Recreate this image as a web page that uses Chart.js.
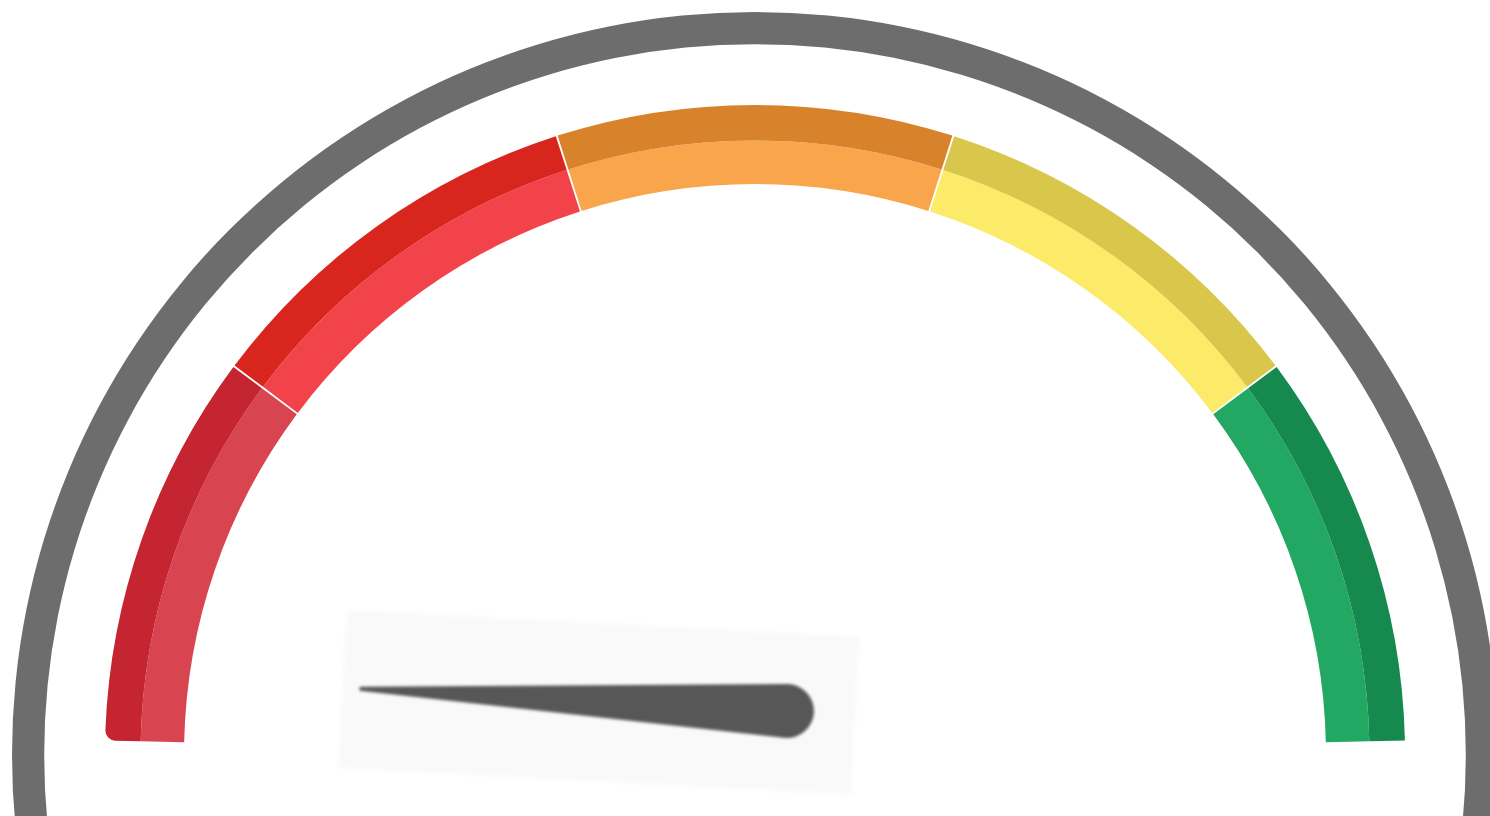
<!DOCTYPE html>
<html>
<head>
<meta charset="utf-8">
<title>Gauge</title>
<script src="https://cdn.jsdelivr.net/npm/chart.js@4/dist/chart.umd.min.js"></script>
<style>
  html, body { margin: 0; padding: 0; background: #fff; overflow: hidden; width: 1490px; height: 816px; }
  #gauge { position: absolute; left: 12px; top: 12px; }
</style>
</head>
<body>
<canvas id="gauge" width="1486" height="1486"></canvas>
<script>
// gauge bands (0 - 100, five equal ranges)
const bandLabels = ['0-20', '20-40', '40-60', '60-80', '80-100'];
const bandValues = [20, 20, 20, 20, 20];
const bandOuterColors = ['#c52431', '#d8261f', '#d9822c', '#d8c74a', '#168a4e'];
const bandInnerColors = ['#d8444f', '#f2434a', '#f9a54b', '#fbeb68', '#22a862'];

// needle position on the 0 - 100 scale
const needleValue = 1;

// gauge arc: starts a little above the horizontal on the left
const gaugeRotation = -88.8;
const gaugeSweep = 177.6;

// needle: pivots slightly right of and above the dial centre
const needlePlugin = {
    id: 'needle',
    afterDatasetsDraw(chart) {
        const arc = chart.getDatasetMeta(2).data[0];
        const ctx = chart.ctx;
        const start = (gaugeRotation - 90) * Math.PI / 180;
        const angle = start + (needleValue / 100) * gaugeSweep * Math.PI / 180;
        const px = arc.x + 32;
        const py = arc.y - 44;
        const len = 428;
        const half = 27;

        ctx.save();
        ctx.translate(px, py);
        ctx.rotate(angle + Math.PI);

        // faint backing card behind the needle
        ctx.filter = 'blur(2px)';
        ctx.fillStyle = 'rgba(0,0,0,0.022)';
        ctx.fillRect(-445, -78, 513, 158);

        // tapered needle with a round tail
        ctx.filter = 'blur(1.7px)';
        ctx.fillStyle = '#575757';
        ctx.beginPath();
        ctx.moveTo(-len, -2);
        ctx.lineTo(0, -half);
        ctx.arc(0, 0, half, -Math.PI / 2, Math.PI / 2);
        ctx.lineTo(-len, 2);
        ctx.closePath();
        ctx.fill();
        ctx.restore();
    }
};

const ctx = document.getElementById('gauge').getContext('2d');
const gauge = new Chart(ctx, {
    type: 'doughnut',
    data: {
        labels: bandLabels,
        datasets: [{
            // outer grey rim
            data: [100],
            backgroundColor: ['#6d6d6d'],
            weight: 32,
            spacing: 0,
            rotation: 180,
            circumference: 360
        }, {
            // empty gap between rim and bands
            data: [100],
            backgroundColor: ['rgba(0,0,0,0)'],
            weight: 62,
            spacing: 0,
            rotation: 180,
            circumference: 360
        }, {
            data: bandValues,
            backgroundColor: bandOuterColors,
            weight: 36,
            spacing: 6,
            rotation: gaugeRotation,
            circumference: gaugeSweep,
            borderRadius: c => c.dataIndex === 0 ? { outerStart: 10, outerEnd: 0, innerStart: 0, innerEnd: 0 } : 0
        }, {
            data: bandValues,
            backgroundColor: bandInnerColors,
            weight: 44,
            spacing: 6,
            rotation: gaugeRotation,
            circumference: gaugeSweep
        }]
    },
    options: {
        responsive: false,
        animation: false,
        cutout: 568,
        borderWidth: 0,
        events: [],
        layout: { padding: 0 },
        plugins: {
            legend: { display: false },
            tooltip: { enabled: false }
        }
    },
    plugins: [needlePlugin]
});
</script>
</body>
</html>
